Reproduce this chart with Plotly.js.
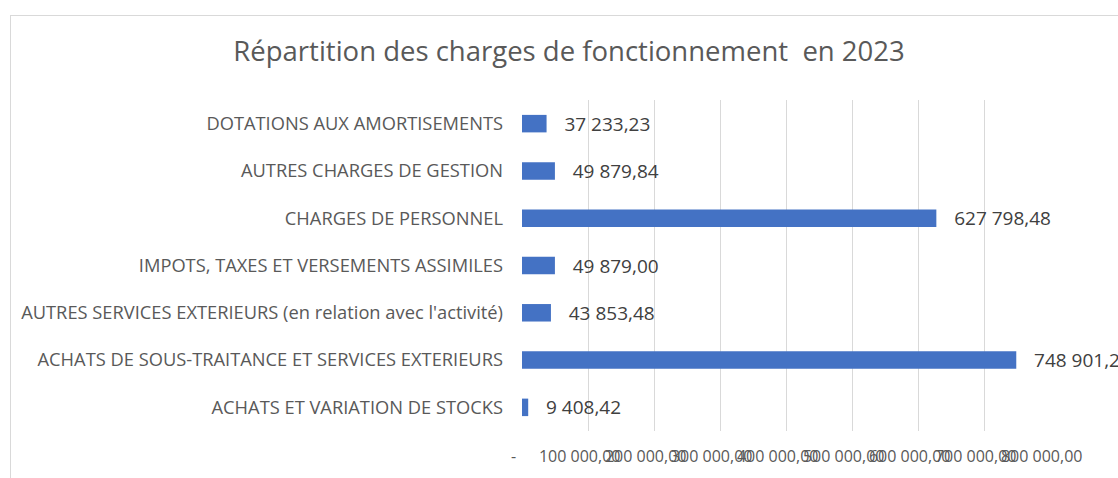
<!DOCTYPE html>
<html>
<head>
<meta charset="utf-8">
<script src="https://cdn.plot.ly/plotly-3.0.1.min.js"></script>
<style>
  html, body { margin: 0; padding: 0; background: #fff; }
  #frame { position: absolute; left: 10px; top: 15px; width: 1200px; height: 600px; border: 1px solid #d9d9d9; }
  #chart { position: absolute; left: 0; top: 0; width: 1118px; height: 478px; }
</style>
</head>
<body>
<div id="frame"></div>
<div id="chart"></div>
<script>
const categories = [
  "ACHATS ET VARIATION DE STOCKS",
  "ACHATS DE SOUS-TRAITANCE ET SERVICES EXTERIEURS",
  "AUTRES SERVICES EXTERIEURS (en relation avec l'activité)",
  "IMPOTS, TAXES ET VERSEMENTS ASSIMILES",
  "CHARGES DE PERSONNEL",
  "AUTRES CHARGES DE GESTION",
  "DOTATIONS AUX AMORTISEMENTS"
];
const values = [9408.42, 748901.26, 43853.48, 49879.00, 627798.48, 49879.84, 37233.23];
const tickValues = [0, 100000, 200000, 300000, 400000, 500000, 600000, 700000, 800000];
const tickLabels = ["-", "100 000,00", "200 000,00", "300 000,00", "400 000,00", "500 000,00", "600 000,00", "700 000,00", "800 000,00"];

const FONT = "Open Sans, Noto Sans, sans-serif";
const PAD = "\u00a0\u00a0\u00a0\u00a0";
const trace = {
  type: "bar",
  orientation: "h",
  y: categories,
  x: values,
  marker: { color: "#4472C4" },
  texttemplate: "\u00a0\u00a0\u00a0%{x:,.2f}",
  textposition: "outside",
  constraintext: "none",
  cliponaxis: false,
  textfont: { family: FONT, size: 19, color: "#404040" },
  hoverinfo: "skip"
};

const layout = {
  width: 1118,
  height: 478,
  paper_bgcolor: "rgba(0,0,0,0)",
  plot_bgcolor: "rgba(0,0,0,0)",
  separators: ", ",
  margin: { l: 522, r: 68, t: 100, b: 47 },
  bargap: 0.63,
  showlegend: false,
  title: {
    text: "Répartition des charges de fonctionnement  en 2023",
    font: { family: FONT, size: 27.5, color: "#595959" },
    x: 0.509, xanchor: "center", xref: "container",
    y: 0.893, yanchor: "middle", yref: "container"
  },
  xaxis: {
    range: [0, 800000],
    tickmode: "array",
    tickvals: tickValues,
    ticktext: tickLabels.map(t => t + PAD),
    tickangle: 0,
    showgrid: true,
    gridcolor: "#d9d9d9",
    gridwidth: 1,
    zeroline: false,
    showline: false,
    ticks: "",
    ticklabelstandoff: 14,
    tickfont: { family: FONT, size: 16, color: "#595959" },
    fixedrange: true
  },
  yaxis: {
    type: "category",
    showgrid: false,
    zeroline: false,
    showline: false,
    ticks: "",
    ticklabelstandoff: 18,
    tickfont: { family: FONT, size: 18.3, color: "#595959" },
    fixedrange: true
  }
};

Plotly.newPlot("chart", [trace], layout, { displayModeBar: false, staticPlot: true });
</script>
</body>
</html>
